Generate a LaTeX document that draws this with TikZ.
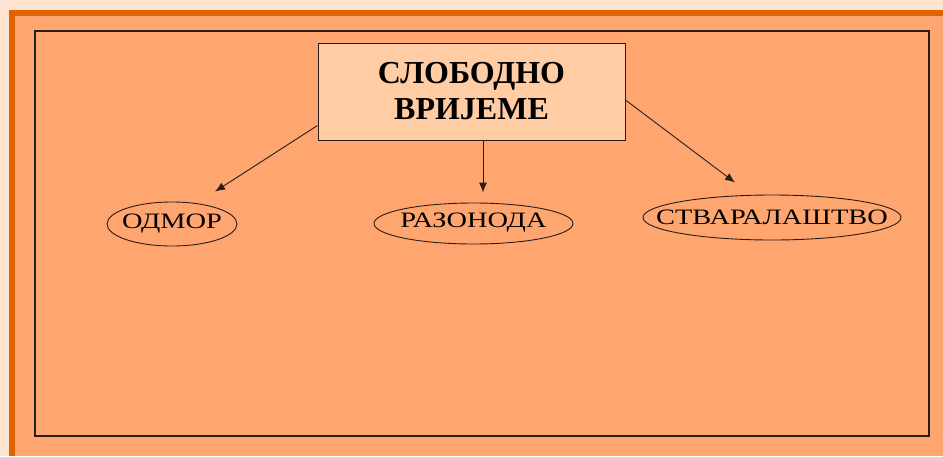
\documentclass[tikz,border=0pt]{standalone}
\usepackage{fontspec}
\setmainfont{Liberation Serif}
\usetikzlibrary{shapes.geometric,arrows.meta}
\definecolor{outerbg}{RGB}{254,228,209}
\definecolor{framec}{RGB}{224,98,0}
\definecolor{fillc}{RGB}{255,166,112}
\definecolor{titlec}{RGB}{255,204,164}
\definecolor{linec}{RGB}{40,30,25}
\tikzset{
  oval/.style={ellipse, draw=linec, line width=0.9pt, inner sep=0pt, font=\fontsize{22}{24}\selectfont},
  arr/.style={draw=linec, line width=0.9pt, -{Latex[length=10pt,width=8pt]}},
}
\newcommand{\wide}[2]{\makebox[0pt]{\raisebox{#1}{\scalebox{1.29}[1]{#2}}}}
\begin{document}
\begin{tikzpicture}[x=1pt,y=-1pt]
\useasboundingbox (0,0) rectangle (943,456);
\fill[outerbg] (0,0) rectangle (943,456);
\fill[framec] (9,10) rectangle (943,456);
\fill[fillc] (15,16) rectangle (943,456);
\draw[linec, line width=1.2pt] (35,31) rectangle (929,436);
\node[draw=linec, line width=1pt, fill=titlec, minimum width=307pt, minimum height=97pt, inner sep=0pt, align=center,
  font=\bfseries\fontsize{32}{36}\selectfont] (title) at (471.5,91.5) {СЛОБОДНО\\ВРИЈЕМЕ};
\node[oval, minimum width=130pt, minimum height=44pt] (odmor) at (172,224) {\wide{6pt}{ОДМОР}};
\node[oval, minimum width=199pt, minimum height=41pt] (razonoda) at (473.5,223.5) {\wide{6pt}{РАЗОНОДА}};
\node[oval, minimum width=258pt, minimum height=45pt] (stvar) at (772,217.5) {\wide{1pt}{СТВАРАЛАШТВО}};
\coordinate (e1) at ([xshift=43pt,yshift=10pt]odmor.north);
\coordinate (e2) at ([xshift=9.5pt,yshift=10pt]razonoda.north);
\coordinate (e3) at ([xshift=-37pt,yshift=12pt]stvar.north);
\draw[arr] ([yshift=15pt]title.south west) -- (e1);
\draw[arr] ([xshift=11.5pt]title.south) -- (e2);
\draw[arr] ([yshift=-8.5pt]title.east) -- (e3);
\end{tikzpicture}
\end{document}
